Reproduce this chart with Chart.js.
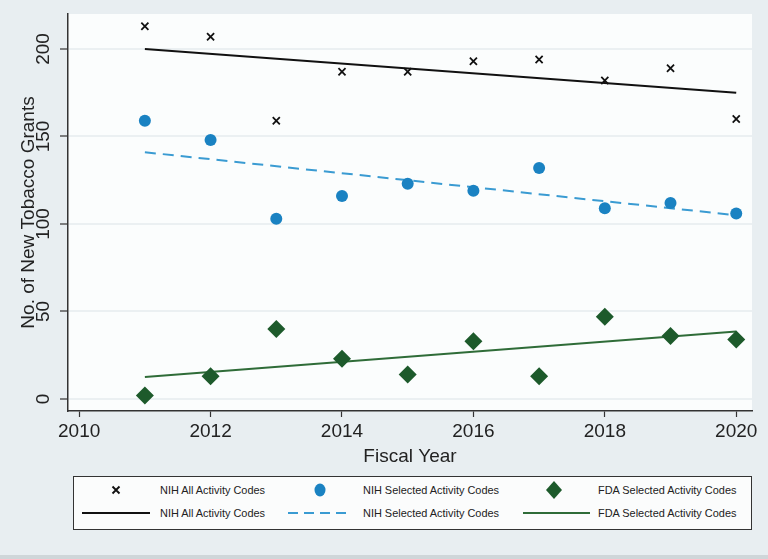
<!DOCTYPE html>
<html>
<head>
<meta charset="utf-8">
<script src="https://cdn.jsdelivr.net/npm/chart.js@4/dist/chart.umd.min.js"></script>
<style>
    body { margin: 0; background: #e8eef1; font-family: "Liberation Sans", Arial, sans-serif; }
    #wrap { position: relative; width: 768px; height: 559px; overflow: hidden; }
    #chartBox { position: absolute; left: 0; top: 0; width: 768px; height: 470px; }
    #legend { position: absolute; left: 73px; top: 476px; width: 677px; height: 52px; background: #fbfcfc; border: 1px solid #333; }
    .lg { position: absolute; font-size: 11.5px; color: #222; line-height: 14px; white-space: nowrap; transform: scaleX(0.95); transform-origin: left center; }
    .sym { position: absolute; }
    #strip { position: absolute; left: 0; top: 555px; width: 768px; height: 4px; background: #cfd6d9; }
</style>
</head>
<body>
<div id="wrap">
    <div id="chartBox"><canvas id="doThi"></canvas></div>
    <div id="legend"></div>
    <div id="strip"></div>
</div>
<script>
var _years = [2011, 2012, 2013, 2014, 2015, 2016, 2017, 2018, 2019, 2020];
var _nihAll = [213, 207, 159, 187, 187, 193, 194, 182, 189, 160];
var _nihSel = [159, 148, 103, 116, 123, 119, 132, 109, 112, 106];
var _fdaSel = [2, 13, 40, 23, 14, 33, 13, 47, 36, 34];
// fitted lines, read at both ends
var _fitYears = [2011, 2020];
var _nihAllFit = [200, 175];
var _nihSelFit = [141, 105];
var _fdaSelFit = [12.5, 38.5];
var _xTicks = [2010, 2012, 2014, 2016, 2018, 2020];
var _yTicks = [0, 50, 100, 150, 200];
var _labels = ['NIH All Activity Codes', 'NIH Selected Activity Codes', 'FDA Selected Activity Codes'];

var _black = '#111111';
var _blue = '#1a82c2';
var _blueLine = '#3a9bd2';
var _green = '#1d5a2b';
var _greenLine = '#2f6c38';

function toPoints(xs, ys) {
    return xs.map(function (x, i) { return { x: x, y: ys[i] }; });
}

var plotBg = {
    id: 'plotBg',
    beforeDraw: function (chart) {
        var a = chart.chartArea;
        chart.ctx.save();
        chart.ctx.fillStyle = '#fbfdfd';
        chart.ctx.fillRect(a.left, a.top, a.right - a.left, a.bottom - a.top);
        chart.ctx.restore();
    }
};

function renderDoThi() {
    var ctx = document.getElementById('doThi').getContext('2d');
    var font = { family: '"Liberation Sans", Arial, sans-serif', size: 19 };
    new Chart(ctx, {
        type: 'scatter',
        data: {
            datasets: [
                { label: _labels[0], data: toPoints(_years, _nihAll), pointStyle: 'crossRot', pointRadius: 5, borderColor: _black, borderWidth: 1.8, backgroundColor: _black },
                { label: _labels[1], data: toPoints(_years, _nihSel), pointStyle: 'circle', pointRadius: 6, borderWidth: 0, backgroundColor: _blue },
                { label: _labels[2], data: toPoints(_years, _fdaSel), pointStyle: 'rectRot', pointRadius: 9, borderWidth: 0, backgroundColor: _green },
                { label: _labels[0], type: 'line', data: toPoints(_fitYears, _nihAllFit), borderColor: _black, borderWidth: 2, pointRadius: 0 },
                { label: _labels[1], type: 'line', data: toPoints(_fitYears, _nihSelFit), borderColor: _blueLine, borderWidth: 2, borderDash: [11, 7], pointRadius: 0 },
                { label: _labels[2], type: 'line', data: toPoints(_fitYears, _fdaSelFit), borderColor: _greenLine, borderWidth: 2, pointRadius: 0 }
            ]
        },
        options: {
            responsive: true,
            maintainAspectRatio: false,
            animation: false,
            layout: { padding: { top: 14, right: 16, left: 0, bottom: 0 } },
            plugins: { legend: { display: false }, tooltip: { enabled: false } },
            scales: {
                x: {
                    type: 'linear',
                    min: 2009.83,
                    max: 2020.24,
                    afterBuildTicks: function (s) { s.ticks = _xTicks.map(function (v) { return { value: v }; }); },
                    afterFit: function (s) { s.height = 59; s.paddingLeft = 0; s.paddingRight = 0; },
                    ticks: { font: font, color: '#222', padding: 3, maxRotation: 0, callback: function (v) { return String(v); } },
                    grid: { drawOnChartArea: false, tickLength: 6, tickColor: '#333', tickWidth: 1.2 },
                    border: { color: '#333', width: 1.5 },
                    title: { display: true, text: 'Fiscal Year', font: font, color: '#222', padding: { top: 0, bottom: 2 } }
                },
                y: {
                    min: -6.9,
                    max: 220,
                    afterBuildTicks: function (s) { s.ticks = _yTicks.map(function (v) { return { value: v }; }); },
                    afterFit: function (s) { s.width = 68; s.paddingTop = 0; s.paddingBottom = 0; },
                    ticks: { font: font, color: '#222', padding: 0, minRotation: 90, maxRotation: 90, crossAlign: 'center' },
                    grid: { color: '#ebf0f2', lineWidth: 2, tickLength: 8, tickColor: '#333', tickWidth: 1.2 },
                    border: { color: '#333', width: 1.5 },
                    title: { display: true, text: 'No. of New Tobacco Grants', font: font, color: '#222', padding: { top: 17, bottom: 0 } }
                }
            }
        },
        plugins: [plotBg]
    });
}

function renderLegend() {
    var box = document.getElementById('legend');
    var ox = 74, oy = 477;
    var symX = [116, 320, 554];
    var textX = [160, 363, 598];
    var lineX = [[82, 150], [288, 352], [523, 590]];
    var row1 = 490, row2 = 513;
    var html = '';
    // row 1: markers
    html += '<svg class="sym" style="left:' + (symX[0] - 6 - ox) + 'px;top:' + (row1 - 6 - oy) + 'px" width="12" height="12">' +
        '<path d="M2.5 2.5 L9.5 9.5 M9.5 2.5 L2.5 9.5" stroke="' + _black + '" stroke-width="1.9"/></svg>';
    html += '<svg class="sym" style="left:' + (symX[1] - 7 - ox) + 'px;top:' + (row1 - 7 - oy) + 'px" width="14" height="14">' +
        '<ellipse cx="7" cy="7" rx="5.5" ry="6.5" fill="' + _blue + '"/></svg>';
    html += '<svg class="sym" style="left:' + (symX[2] - 9 - ox) + 'px;top:' + (row1 - 9 - oy) + 'px" width="18" height="18">' +
        '<path d="M9 0 L17 9 L9 18 L1 9 Z" fill="' + _green + '"/></svg>';
    // row 2: lines
    var strokes = [[_black, ''], [_blueLine, '10 6'], [_greenLine, '']];
    for (var i = 0; i < 3; i++) {
        var w = lineX[i][1] - lineX[i][0];
        html += '<svg class="sym" style="left:' + (lineX[i][0] - ox) + 'px;top:' + (row2 - 3 - oy) + 'px" width="' + w + '" height="6">' +
            '<line x1="0" y1="3" x2="' + w + '" y2="3" stroke="' + strokes[i][0] + '" stroke-width="2"' +
            (strokes[i][1] ? ' stroke-dasharray="' + strokes[i][1] + '"' : '') + '/></svg>';
        html += '<div class="lg" style="left:' + (textX[i] - ox) + 'px;top:' + (row1 - 7 - oy) + 'px">' + _labels[i] + '</div>';
        html += '<div class="lg" style="left:' + (textX[i] - ox) + 'px;top:' + (row2 - 7 - oy) + 'px">' + _labels[i] + '</div>';
    }
    box.innerHTML = html;
}

renderDoThi();
renderLegend();
</script>
</body>
</html>
